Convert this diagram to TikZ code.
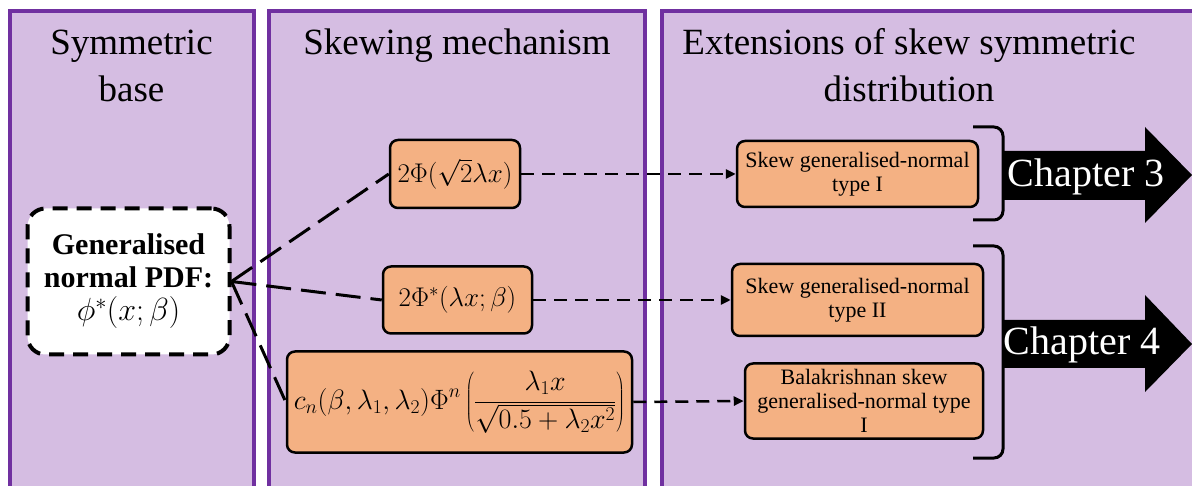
\documentclass[tikz,border=0pt]{standalone}
\usepackage{fix-cm}
\usepackage{fontspec}
\setmainfont{Liberation Serif}
\usetikzlibrary{arrows.meta}
\definecolor{panelfill}{HTML}{D5BDE2}
\definecolor{panelline}{HTML}{7030A0}
\definecolor{boxfill}{HTML}{F4B183}
\begin{document}
\begin{tikzpicture}[x=1pt,y=-1pt,
  panel/.style={fill=panelfill, draw=panelline, line width=4pt},
  title/.style={font=\fontsize{37}{47}\selectfont, align=center, anchor=base, inner sep=0pt},
  mbox/.style={draw, fill=boxfill, line width=2.5pt, rounded corners=8pt, inner sep=0pt, font=\fontsize{27}{30}\selectfont},
  tbox/.style={draw, fill=boxfill, line width=2.5pt, rounded corners=8pt, inner sep=0pt, align=center, font=\fontsize{22}{24}\selectfont},
  genbox/.style={draw, fill=white, line width=4pt, dash pattern=on 15pt off 9pt, rounded corners=18pt, inner sep=0pt, align=center, font=\fontsize{30}{33}\selectfont},
  link/.style={line width=3pt, dash pattern=on 25pt off 10pt},
  feed/.style={line width=2.5pt, dash pattern=on 13pt off 8pt, -{Triangle[length=10pt,width=9pt]}},
  bracket/.style={line width=3pt, rounded corners=9pt},
  chap/.style={fill=black},
  chaptext/.style={text=white, font=\fontsize{40}{40}\selectfont, anchor=base, inner sep=0pt}]
\useasboundingbox (0,0) rectangle (1192,486);
\clip (0,0) rectangle (1192,486);
% panels
\draw[panel] (10,11) rectangle (254,500);
\draw[panel] (269,11) rectangle (644.5,500);
\draw[panel] (662,11) rectangle (1210,500);
% titles (base anchor = baseline of the last line)
\node[title] (t-sym) at (131.5,102) {Symmetric\\base};
\node[title] (t-skew) at (457,55) {Skewing mechanism};
\node[title] (t-ext) at (909,102) {Extensions of skew symmetric\\distribution};
% base node
\node[genbox, minimum width=202pt, minimum height=146pt] (gen) at (128.5,281.5)
  {\textbf{Generalised}\\\textbf{normal PDF:}\\\fontsize{32}{33}\selectfont$\phi^*(x;\beta)$};
% skewing functions
\node[mbox, minimum width=130pt, minimum height=68pt] (f1) at (455,174) {$2\Phi\bigl(\sqrt{2}\lambda x\bigr)$};
\node[mbox, minimum width=149pt, minimum height=67pt] (f2) at (457.5,300) {$2\Phi^*(\lambda x;\beta)$};
\node[mbox, minimum width=345pt, minimum height=101pt, font=\fontsize{28}{30}\selectfont] (f3) at (459.5,402)
  {$\displaystyle c_n(\beta,\lambda_1,\lambda_2)\Phi^n\left(\frac{\lambda_1 x}{\sqrt{0.5+\lambda_2x^2}}\right)$};
% extensions
\node[tbox, minimum width=241pt, minimum height=66pt] (e1) at (857.5,174) {Skew generalised-normal\\type I};
\node[tbox, minimum width=251pt, minimum height=72pt] (e2) at (857.5,300) {Skew generalised-normal\\type II};
\node[tbox, minimum width=238pt, minimum height=75pt] (e3) at (864,401) {Balakrishnan skew\\generalised-normal type\\I};
% connectors
\draw[link] (gen.east) -- (f1.west);
\draw[link] (gen.east) -- (f2.west);
\draw[link] (gen.east) -- (f3.west);
\draw[feed] (f1.east) -- (e1.west);
\draw[feed] (f2.east) -- (e2.west);
\draw[feed] (f3.east) -- (e3.west);
% brackets
\draw[bracket] (973,127) -- (1003,127) -- (1003,220) -- (973,220);
\draw[bracket] (973,246) -- (1003,246) -- (1003,458) -- (973,458);
% chapter arrows
\fill[chap] (1004,151) -- (1145,151) -- (1145,127) -- (1192,175) -- (1145,223) -- (1145,200) -- (1004,200) -- cycle;
\node[chaptext] (ch3) at (1086,187) {Chapter 3};
\fill[chap] (1004,320) -- (1145,320) -- (1145,295) -- (1192,344) -- (1145,392) -- (1145,368) -- (1004,368) -- cycle;
\node[chaptext] (ch4) at (1082,355) {Chapter 4};
\end{tikzpicture}
\end{document}
